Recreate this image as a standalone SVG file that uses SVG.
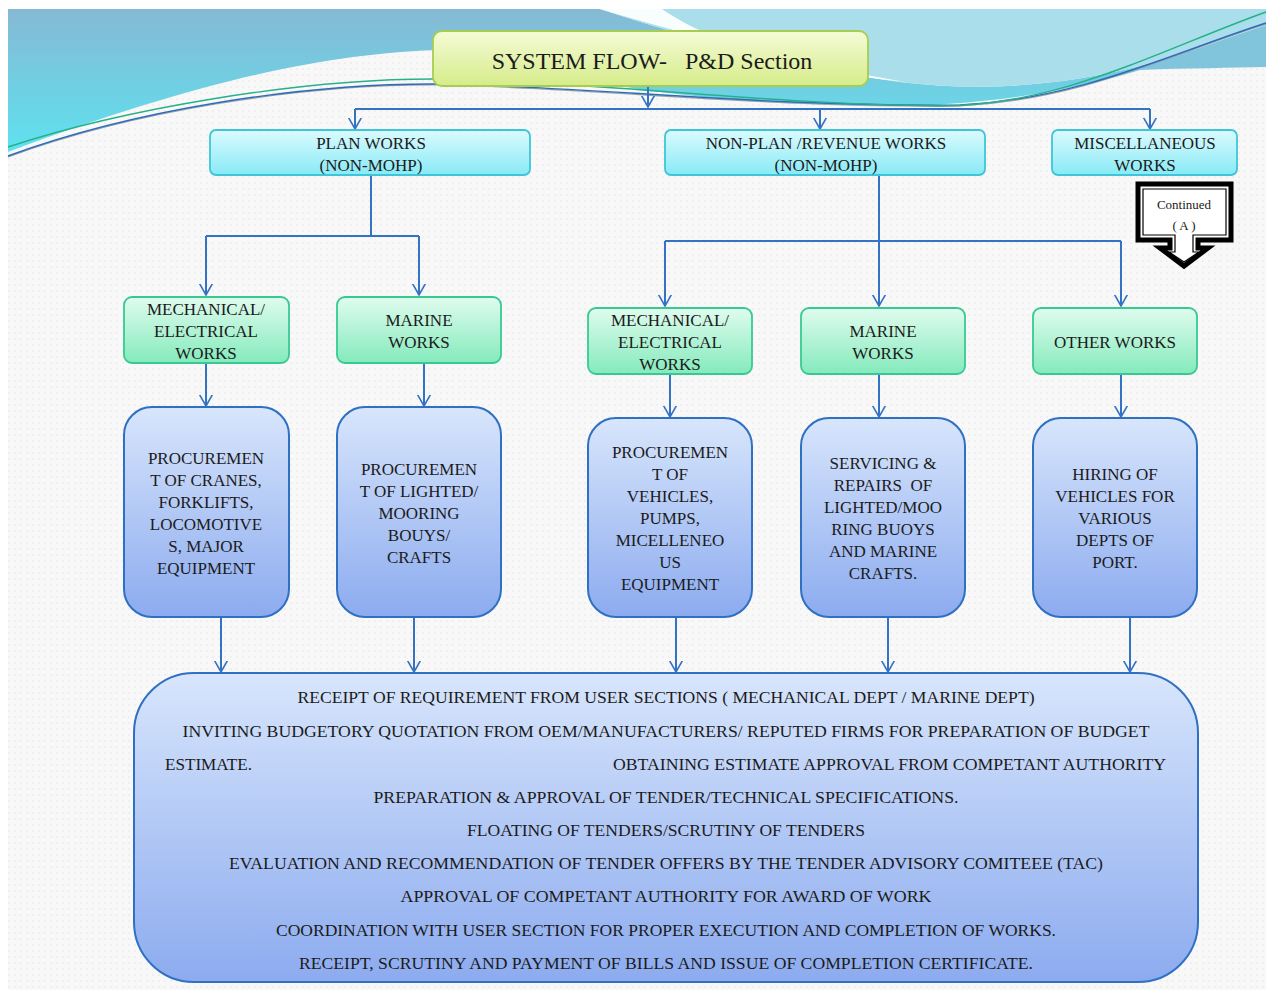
<svg xmlns="http://www.w3.org/2000/svg" width="1272" height="994" viewBox="0 0 1272 994">
  <defs>
    <pattern id="dots" width="6" height="6" patternUnits="userSpaceOnUse">
      <rect width="6" height="6" fill="#f8f8f8"/>
      <circle cx="3" cy="3" r="0.9" fill="#ebebeb"/>
    </pattern>
    <linearGradient id="gSky" x1="0" y1="9" x2="0" y2="155" gradientUnits="userSpaceOnUse">
      <stop offset="0" stop-color="#86b9d4"/>
      <stop offset="1" stop-color="#5de3f0"/>
    </linearGradient>
    <linearGradient id="gTitle" x1="0" y1="0" x2="0" y2="1">
      <stop offset="0" stop-color="#f5fbd6"/>
      <stop offset="1" stop-color="#d6ec8a"/>
    </linearGradient>
    <linearGradient id="gCyan" x1="0" y1="0" x2="0" y2="1">
      <stop offset="0" stop-color="#dbfbfe"/>
      <stop offset="1" stop-color="#88eaf6"/>
    </linearGradient>
    <linearGradient id="gGreen" x1="0" y1="0" x2="0" y2="1">
      <stop offset="0" stop-color="#e0fcee"/>
      <stop offset="1" stop-color="#84eabc"/>
    </linearGradient>
    <linearGradient id="gBlue" x1="0" y1="0" x2="0" y2="1">
      <stop offset="0" stop-color="#d8e6fc"/>
      <stop offset="1" stop-color="#8cabef"/>
    </linearGradient>
    <marker id="arr" viewBox="0 0 12 14" refX="11.5" refY="7" markerWidth="12" markerHeight="14" markerUnits="userSpaceOnUse" orient="auto">
      <path d="M0,0.5 L11.5,7 L0,13.5" fill="none" stroke="#3473c3" stroke-width="1.6"/>
    </marker>
    <style>
      .t { font-family: "Liberation Serif", "Times New Roman", serif; fill: #1b1b1b; text-anchor: middle; }
      .t17 { font-size: 17px; }
      .lvl1 { fill: url(#gCyan); stroke: #3fc5d8; stroke-width: 1.8; }
      .lvl2 { fill: url(#gGreen); stroke: #38c993; stroke-width: 1.8; }
      .lvl3 { fill: url(#gBlue); stroke: #2f70c2; stroke-width: 2; }
      .conn { fill: none; stroke: #3473c3; stroke-width: 2; }
      .cont { fill: none; stroke: #000; }
    </style>
  </defs>

  <!-- page -->
  <rect width="1272" height="994" fill="#ffffff"/>
  <rect x="8" y="9" width="1258" height="981" fill="url(#dots)"/>

  <!-- header swoosh -->
  <g id="swoosh">
    <path d="M8,9 H600 C680,35 790,68 900,82 C980,92 1060,86 1140,66 L1140,70 C1060,95 960,108 860,106 C760,104 680,96 620,86 C560,70 500,52 440,50 C330,53 200,80 8,152 Z" fill="url(#gSky)"/>
    <path d="M600,9 H1266 V25 C1200,45 1160,60 1140,66 C1060,86 980,92 900,82 C790,68 680,35 600,9 Z" fill="#a9deea"/>
    <path d="M1266,25 C1220,40 1180,56 1140,66 L1140,70 C1190,68 1230,68 1266,67 Z" fill="#80c5dc"/>
    <path d="M600,9 C690,36 800,64 905,82 C800,72 710,42 662,9 Z" fill="#ffffff" opacity="0.92"/>
    <path d="M8,157 C130,112 300,84 440,85 C600,88 760,108 960,106 C1080,100 1170,55 1266,24" fill="none" stroke="#9aa3ad" stroke-width="1.2"/>
    <path d="M8,156 C130,111 300,83 440,84 C600,87 760,107 960,105 C1080,99 1170,54 1266,23" fill="none" stroke="#2f6cb8" stroke-width="1.4"/>
    <path d="M8,147 C120,110 300,78 440,79 C600,82 760,104 940,106 C1060,106 1160,50 1266,12" fill="none" stroke="#27b08a" stroke-width="1.4"/>
  </g>

  <!-- connectors -->
  <g id="connectors">
    <path class="conn" d="M648,86 V107" marker-end="url(#arr)"/>
    <path class="conn" d="M355,109 H1150"/>
    <path class="conn" d="M355,109 V129" marker-end="url(#arr)"/>
    <path class="conn" d="M820,109 V129" marker-end="url(#arr)"/>
    <path class="conn" d="M1150,109 V129" marker-end="url(#arr)"/>

    <path class="conn" d="M371,175 V236 M206,236 H419"/>
    <path class="conn" d="M206,236 V295" marker-end="url(#arr)"/>
    <path class="conn" d="M419,236 V295" marker-end="url(#arr)"/>

    <path class="conn" d="M879,175 V306" marker-end="url(#arr)"/>
    <path class="conn" d="M665,241 H1121"/>
    <path class="conn" d="M665,241 V306" marker-end="url(#arr)"/>
    <path class="conn" d="M1121,241 V306" marker-end="url(#arr)"/>

    <path class="conn" d="M206,363 V406" marker-end="url(#arr)"/>
    <path class="conn" d="M424,363 V406" marker-end="url(#arr)"/>
    <path class="conn" d="M670,374 V417" marker-end="url(#arr)"/>
    <path class="conn" d="M879,374 V417" marker-end="url(#arr)"/>
    <path class="conn" d="M1121,374 V417" marker-end="url(#arr)"/>

    <path class="conn" d="M221,617 V672" marker-end="url(#arr)"/>
    <path class="conn" d="M414,617 V672" marker-end="url(#arr)"/>
    <path class="conn" d="M676,617 V672" marker-end="url(#arr)"/>
    <path class="conn" d="M888,617 V672" marker-end="url(#arr)"/>
    <path class="conn" d="M1130,617 V672" marker-end="url(#arr)"/>
  </g>

  <!-- title -->
  <g id="title">
    <rect x="433" y="31" width="435" height="55" rx="9" fill="url(#gTitle)" stroke="#a6cd52" stroke-width="1.8"/>
    <text class="t" x="652" y="69" font-size="24" xml:space="preserve">SYSTEM FLOW-   P&amp;D Section</text>
  </g>

  <!-- level 1 -->
  <g id="plan-works">
    <rect class="lvl1" x="210" y="130" width="320" height="45" rx="6"/>
    <text class="t t17" x="371" y="149">PLAN WORKS</text>
    <text class="t t17" x="371" y="171">(NON-MOHP)</text>
  </g>
  <g id="nonplan-works">
    <rect class="lvl1" x="665" y="130" width="320" height="45" rx="6"/>
    <text class="t t17" x="826" y="149">NON-PLAN /REVENUE WORKS</text>
    <text class="t t17" x="826" y="171">(NON-MOHP)</text>
  </g>
  <g id="misc-works">
    <rect class="lvl1" x="1052" y="130" width="185" height="45" rx="6"/>
    <text class="t t17" x="1145" y="149">MISCELLANEOUS</text>
    <text class="t t17" x="1145" y="171">WORKS</text>
  </g>

  <!-- continuation callout -->
  <g id="continued">
    <path d="M1138,184 H1231 V240 H1198 V248 H1208 L1184,266 L1160,248 H1170 V240 H1138 Z" fill="#ffffff" stroke="#000" stroke-width="5" stroke-linejoin="miter"/>
    <path class="cont" d="M1143,189 H1226 V235 H1193 V252 H1199 L1184,262 L1169,252 H1175 V235 H1143 Z" stroke-width="1.2"/>
    <text class="t" x="1184" y="209" font-size="13">Continued</text>
    <text class="t" x="1184" y="230" font-size="13" xml:space="preserve">( A )</text>
  </g>

  <!-- level 2 -->
  <g id="plan-mech">
    <rect class="lvl2" x="124" y="297" width="165" height="66" rx="8"/>
    <text class="t t17" x="206" y="315">MECHANICAL/</text>
    <text class="t t17" x="206" y="337">ELECTRICAL</text>
    <text class="t t17" x="206" y="359">WORKS</text>
  </g>
  <g id="plan-marine">
    <rect class="lvl2" x="337" y="297" width="164" height="66" rx="8"/>
    <text class="t t17" x="419" y="326">MARINE</text>
    <text class="t t17" x="419" y="348">WORKS</text>
  </g>
  <g id="nonplan-mech">
    <rect class="lvl2" x="588" y="308" width="164" height="66" rx="8"/>
    <text class="t t17" x="670" y="326">MECHANICAL/</text>
    <text class="t t17" x="670" y="348">ELECTRICAL</text>
    <text class="t t17" x="670" y="370">WORKS</text>
  </g>
  <g id="nonplan-marine">
    <rect class="lvl2" x="801" y="308" width="164" height="66" rx="8"/>
    <text class="t t17" x="883" y="337">MARINE</text>
    <text class="t t17" x="883" y="359">WORKS</text>
  </g>
  <g id="other-works">
    <rect class="lvl2" x="1033" y="308" width="164" height="66" rx="8"/>
    <text class="t t17" x="1115" y="348">OTHER WORKS</text>
  </g>

  <!-- level 3 -->
  <g id="proc-cranes">
    <rect class="lvl3" x="124" y="407" width="165" height="210" rx="28"/>
    <text class="t t17" x="206" y="464">PROCUREMEN</text>
    <text class="t t17" x="206" y="486">T OF CRANES,</text>
    <text class="t t17" x="206" y="508">FORKLIFTS,</text>
    <text class="t t17" x="206" y="530">LOCOMOTIVE</text>
    <text class="t t17" x="206" y="552">S, MAJOR</text>
    <text class="t t17" x="206" y="574">EQUIPMENT</text>
  </g>
  <g id="proc-buoys">
    <rect class="lvl3" x="337" y="407" width="164" height="210" rx="28"/>
    <text class="t t17" x="419" y="475">PROCUREMEN</text>
    <text class="t t17" x="419" y="497">T OF LIGHTED/</text>
    <text class="t t17" x="419" y="519">MOORING</text>
    <text class="t t17" x="419" y="541">BOUYS/</text>
    <text class="t t17" x="419" y="563">CRAFTS</text>
  </g>
  <g id="proc-vehicles">
    <rect class="lvl3" x="588" y="418" width="164" height="199" rx="28"/>
    <text class="t t17" x="670" y="458">PROCUREMEN</text>
    <text class="t t17" x="670" y="480">T OF</text>
    <text class="t t17" x="670" y="502">VEHICLES,</text>
    <text class="t t17" x="670" y="524">PUMPS,</text>
    <text class="t t17" x="670" y="546">MICELLENEO</text>
    <text class="t t17" x="670" y="568">US</text>
    <text class="t t17" x="670" y="590">EQUIPMENT</text>
  </g>
  <g id="servicing">
    <rect class="lvl3" x="801" y="418" width="164" height="199" rx="28"/>
    <text class="t t17" x="883" y="469">SERVICING &amp;</text>
    <text class="t t17" x="883" y="491" xml:space="preserve">REPAIRS  OF</text>
    <text class="t t17" x="883" y="513">LIGHTED/MOO</text>
    <text class="t t17" x="883" y="535">RING BUOYS</text>
    <text class="t t17" x="883" y="557">AND MARINE</text>
    <text class="t t17" x="883" y="579">CRAFTS.</text>
  </g>
  <g id="hiring">
    <rect class="lvl3" x="1033" y="418" width="164" height="199" rx="28"/>
    <text class="t t17" x="1115" y="480">HIRING OF</text>
    <text class="t t17" x="1115" y="502">VEHICLES FOR</text>
    <text class="t t17" x="1115" y="524">VARIOUS</text>
    <text class="t t17" x="1115" y="546">DEPTS OF</text>
    <text class="t t17" x="1115" y="568">PORT.</text>
  </g>

  <!-- common procedure -->
  <g id="procedure">
    <rect class="lvl3" x="134" y="673" width="1064" height="309" rx="60"/>
    <g xml:space="preserve">
      <text class="t t17" x="666" y="703" textLength="737" lengthAdjust="spacingAndGlyphs">RECEIPT OF REQUIREMENT FROM USER SECTIONS  ( MECHANICAL  DEPT / MARINE  DEPT)</text>
      <text class="t t17" x="666" y="737" textLength="967" lengthAdjust="spacingAndGlyphs">INVITING  BUDGETORY QUOTATION  FROM  OEM/MANUFACTURERS/  REPUTED FIRMS FOR PREPARATION  OF BUDGET</text>
      <text class="t t17" x="165" y="770" style="text-anchor:start" textLength="87" lengthAdjust="spacingAndGlyphs">ESTIMATE.</text>
      <text class="t t17" x="613" y="770" style="text-anchor:start" textLength="553" lengthAdjust="spacingAndGlyphs">OBTAINING  ESTIMATE  APPROVAL FROM COMPETANT  AUTHORITY</text>
      <text class="t t17" x="666" y="803" textLength="585" lengthAdjust="spacingAndGlyphs">PREPARATION &amp; APPROVAL  OF TENDER/TECHNICAL  SPECIFICATIONS.</text>
      <text class="t t17" x="666" y="836" textLength="398" lengthAdjust="spacingAndGlyphs">FLOATING  OF TENDERS/SCRUTINY  OF TENDERS</text>
      <text class="t t17" x="666" y="869" textLength="874" lengthAdjust="spacingAndGlyphs">EVALUATION  AND RECOMMENDATION  OF TENDER OFFERS BY THE TENDER ADVISORY  COMITEEE (TAC)</text>
      <text class="t t17" x="666" y="902" textLength="531" lengthAdjust="spacingAndGlyphs">APPROVAL OF COMPETANT  AUTHORITY  FOR  AWARD OF WORK</text>
      <text class="t t17" x="666" y="936" textLength="780" lengthAdjust="spacingAndGlyphs">COORDINATION  WITH  USER SECTION FOR PROPER EXECUTION  AND COMPLETION  OF WORKS.</text>
      <text class="t t17" x="666" y="969" textLength="734" lengthAdjust="spacingAndGlyphs">RECEIPT, SCRUTINY  AND PAYMENT OF BILLS AND ISSUE OF COMPLETION CERTIFICATE.</text>
    </g>
  </g>
</svg>
